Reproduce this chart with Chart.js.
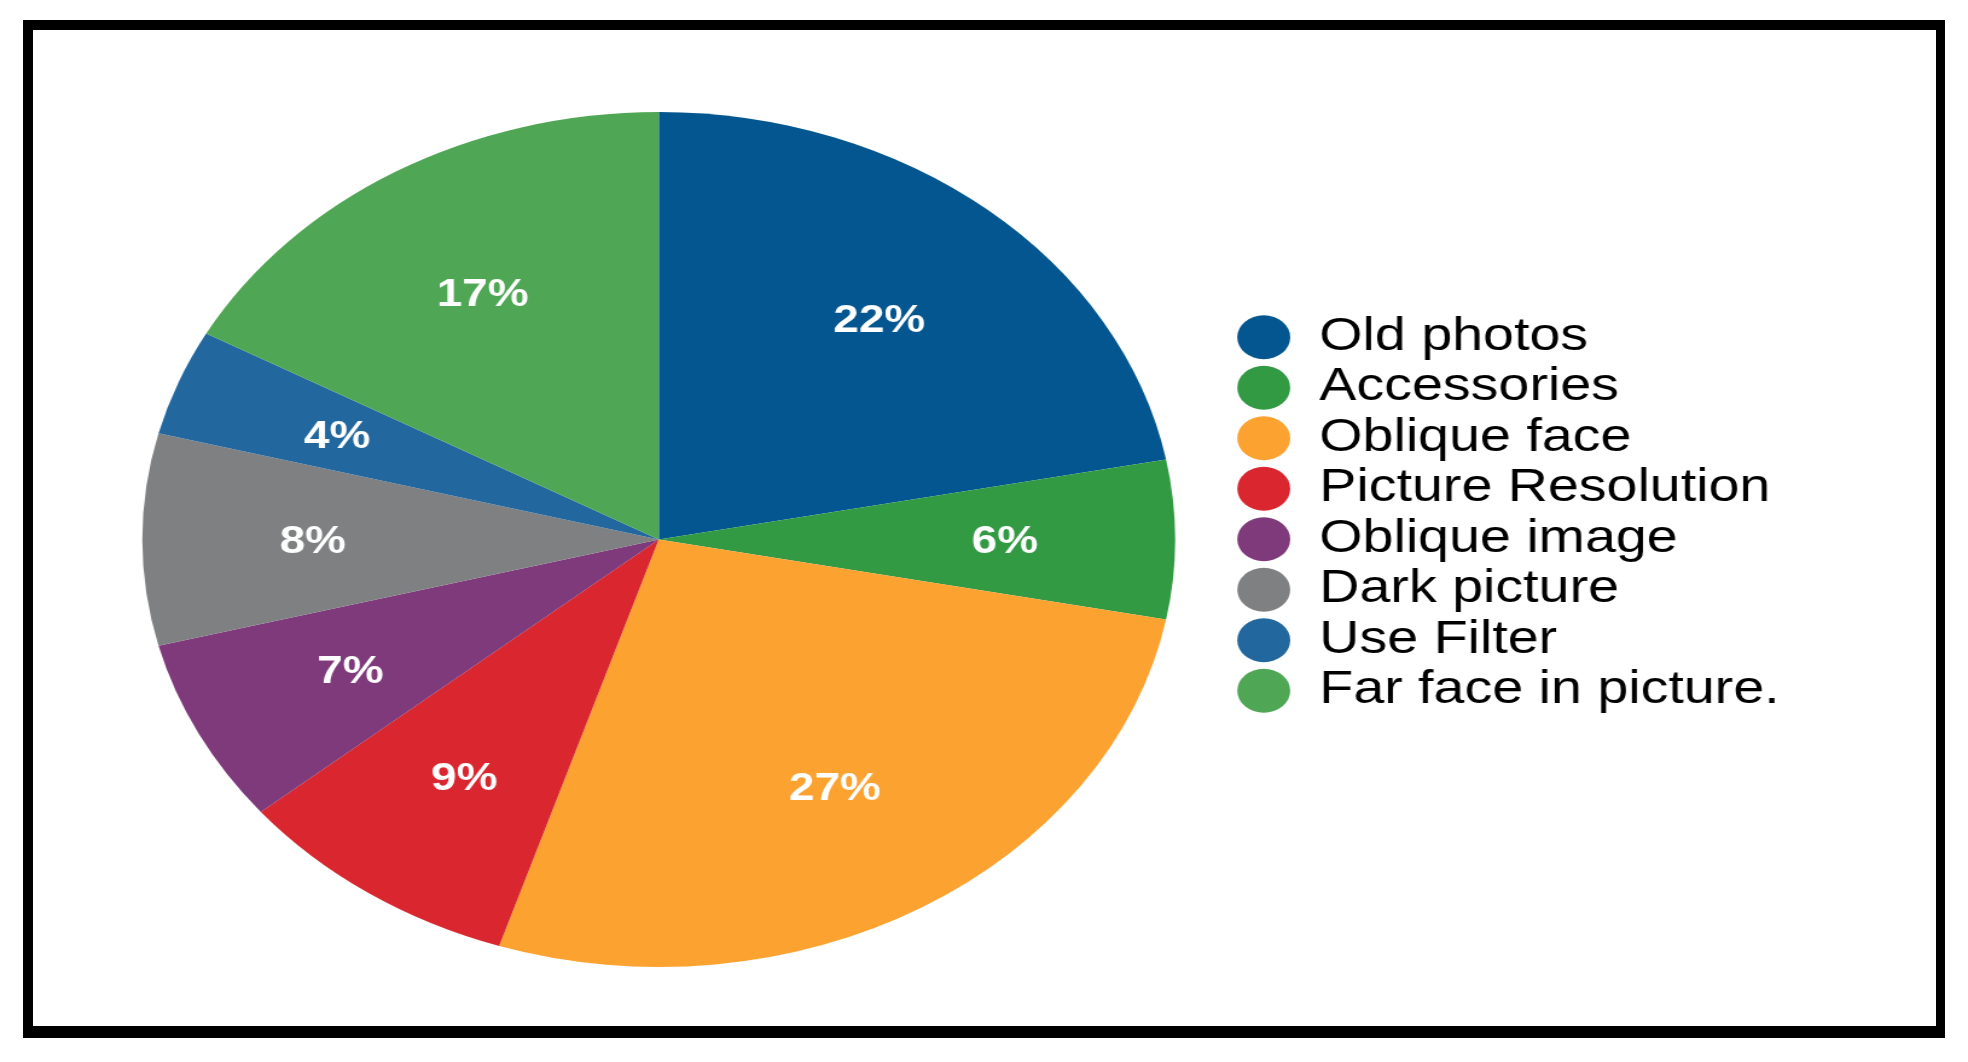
<!DOCTYPE html>
<html>
<head>
<meta charset="utf-8">
<script src="https://cdn.jsdelivr.net/npm/chart.js@4.4.1/dist/chart.umd.min.js"></script>
<style>
  html, body { margin: 0; padding: 0; background: #fff; }
  body { width: 1968px; height: 1062px; position: relative; overflow: hidden; }
  #frame {
    position: absolute; left: 23px; top: 20px;
    width: 1922px; height: 1018px; box-sizing: border-box;
    border-style: solid; border-color: #000;
    border-width: 10px 9px 12px 10px;
  }
  /* the source picture is stretched sideways, so the whole chart is too */
  #pieChart {
    position: absolute; left: 0; top: 0;
    transform-origin: 0 0; transform: scaleX(1.2081);
  }
</style>
</head>
<body>
<div id="frame"></div>
<canvas id="pieChart" width="1629" height="1062"></canvas>
<script>
const categories = [
  'Old photos',
  'Accessories',
  'Oblique face',
  'Picture Resolution',
  'Oblique image',
  'Dark picture',
  'Use Filter',
  'Far face in picture.'
];
const shares = [22, 6, 27, 9, 7, 8, 4, 17];
const sliceColors = ['#03568f', '#319a43', '#fca230', '#da272f', '#7e3a7b', '#7e8081', '#22679e', '#4fa755'];

const fontFamily = '"Liberation Sans", Arial, Helvetica, sans-serif';

// percentage text inside each slice
const sliceLabels = {
  id: 'sliceLabels',
  afterDatasetsDraw(chart) {
    const ctx = chart.ctx;
    const meta = chart.getDatasetMeta(0);
    ctx.save();
    ctx.fillStyle = '#ffffff';
    ctx.font = `bold 38px ${fontFamily}`;
    ctx.textAlign = 'center';
    ctx.textBaseline = 'middle';
    meta.data.forEach((arc, i) => {
      const { x, y, startAngle, endAngle, outerRadius } = arc.getProps(['x', 'y', 'startAngle', 'endAngle', 'outerRadius'], true);
      const mid = (startAngle + endAngle) / 2;
      const r = outerRadius * 0.67;
      ctx.fillText(`${shares[i]}%`, x + Math.cos(mid) * r, y + Math.sin(mid) * r + 3);
    });
    ctx.restore();
  }
};

const renderPie = () => {
  const ctx = document.getElementById('pieChart');

  new Chart(ctx, {
    type: 'pie',
    data: {
      labels: categories,
      datasets: [{
        data: shares,
        backgroundColor: sliceColors,
        borderWidth: 0,
        hoverBorderWidth: 0,
        hoverOffset: 0
      }]
    },
    options: {
      responsive: false,
      animation: false,
      layout: {
        padding: { top: 61, bottom: 95, left: 72, right: 146 }
      },
      plugins: {
        // empty title only pushes the pie a little below the legend centre
        title: {
          display: true,
          text: '',
          font: { size: 10, lineHeight: 1 },
          padding: { top: 0, bottom: 41 }
        },
        legend: {
          position: 'right',
          align: 'center',
          labels: {
            usePointStyle: true,
            pointStyle: 'circle',
            boxWidth: 46,
            boxHeight: 31,
            padding: 4.5,
            color: '#000',
            font: { family: fontFamily, size: 46 }
          }
        },
        tooltip: { enabled: false }
      }
    },
    plugins: [sliceLabels]
  });
};

window.onload = () => {
  renderPie();
};
</script>
</body>
</html>
